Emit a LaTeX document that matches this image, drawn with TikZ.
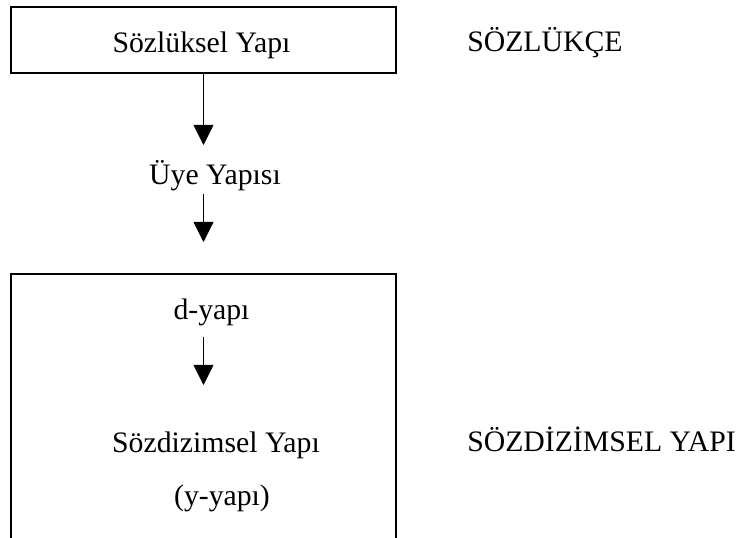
\documentclass[tikz,border=0pt]{standalone}
\usepackage{fontspec}
\setmainfont{Liberation Serif}
\usetikzlibrary{arrows.meta,positioning}

\begin{document}
\begin{tikzpicture}[
    x=0.75pt, y=-0.75pt,
    every node/.style={font=\fontsize{22.3}{26}\selectfont, inner sep=0pt},
    frame/.style={draw, line width=1.5pt, minimum width=288.75pt},
    flow/.style={line width=0.75pt, -{Triangle[length=15pt,width=15pt]}}
]
    \useasboundingbox (0,0) rectangle (744,538);
    \clip (0,0) rectangle (744,538);

    % lexicon
    \node[frame, minimum height=49.5pt] (lexbox) at (203.5,40) {};
    \node[anchor=base] (lex) at (201.5,53) {Sözlüksel Yapı};
    \node[anchor=base west] (lexlbl) at (467,52) {SÖZLÜKÇE};
    \node[anchor=base] (uye) at (215,185) {Üye Yapısı};

    % syntax (box runs past the bottom edge)
    \node[frame, minimum height=214.5pt] (synbox) at (203.5,417) {};
    \node[anchor=base] (dyapi) at (211.5,320) {d-yapı};
    \node[anchor=base] (syn) at (216,453) {Sözdizimsel Yapı};
    \node[anchor=base] (yyapi) at (222,506) {(y-yapı)};
    \node[anchor=base west] (synlbl) at (467,452) {SÖZDİZİMSEL YAPI};

    \coordinate (tip1) at (203.5,145);
    \coordinate (tip2) at (203.5,242);
    \coordinate (tip3) at (203.5,385);
    \draw[flow] (lexbox.south) -- (tip1);
    \draw[flow, shorten <=1.5pt] (uye.south -| tip2) -- (tip2);
    \draw[flow, shorten <=8pt] (dyapi.south -| tip3) -- (tip3);
\end{tikzpicture}
\end{document}
